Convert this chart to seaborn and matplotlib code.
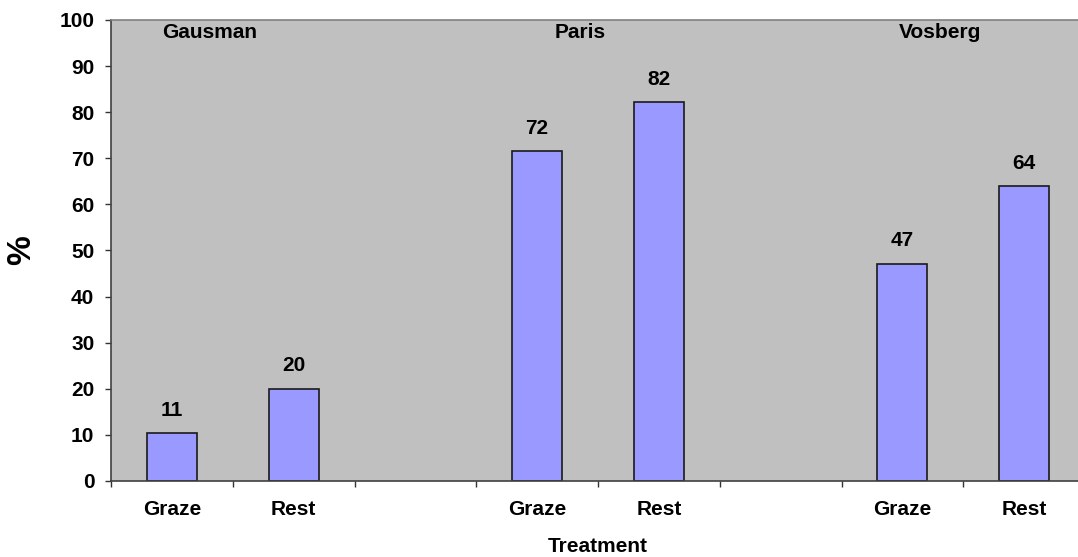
import pandas as pd
import matplotlib.pyplot as plt
import seaborn as sns

# --- data ---
slots = [0, 1, 3, 4, 6, 7]          # category slot of each bar (2 and 5 are blank gaps)
treatments = ["Graze", "Rest", "Graze", "Rest", "Graze", "Rest"]
values = [10.4, 20.0, 71.5, 82.2, 47.1, 64.0]
value_labels = ["11", "20", "72", "82", "47", "64"]
sites = ["Gausman", "Paris", "Vosberg"]
site_x = [0.31, 3.35, 6.31]
n_slots = 8

df = pd.DataFrame({"slot": slots, "treatment": treatments, "value": values})

sns.set_theme(style="white")
plt.rcParams["font.family"] = ["Liberation Sans", "DejaVu Sans"]
plt.rcParams["font.weight"] = "bold"

fig = plt.figure(figsize=(10.78, 5.57), dpi=100)
ax = fig.add_axes([111 / 1078, 1 - 481 / 557, 974 / 1078, 461 / 557])
ax.set_facecolor("#C0C0C0")

sns.barplot(data=df, x="slot", y="value", order=list(range(n_slots)),
            color="#9999FF", saturation=1, width=0.41,
            edgecolor="#1a1a1a", linewidth=1.2, ax=ax)

ax.set_xlim(-0.5, n_slots - 0.5)
ax.set_ylim(0, 100)
ax.set_yticks(range(0, 101, 10))

# x: tick marks at slot boundaries, labels at slot centres
tick_names = [""] * n_slots
for s, t in zip(slots, treatments):
    tick_names[s] = t
ax.set_xticks([i - 0.5 for i in range(n_slots + 1)])
ax.set_xticklabels([])
ax.set_xticks(range(n_slots), minor=True)
ax.set_xticklabels(tick_names, minor=True)
ax.tick_params(axis="x", which="major", direction="out", length=4, width=1,
               color="#333333", bottom=True)
ax.tick_params(axis="x", which="minor", length=0, pad=14, labelsize=15,
               labelcolor="black")
ax.tick_params(axis="y", direction="out", length=4, width=1, color="#333333",
               left=True, pad=8, labelsize=15, labelcolor="black")
for lab in ax.get_xticklabels(minor=True) + ax.get_yticklabels():
    lab.set_fontweight("bold")

ax.spines["top"].set_visible(True)
ax.spines["top"].set_color("#808080")
ax.spines["right"].set_visible(False)
ax.spines["left"].set_color("#404040")
ax.spines["bottom"].set_color("#404040")
for sp in ax.spines.values():
    sp.set_linewidth(1.2)

# value labels above each bar
for s, v, lab in zip(slots, values, value_labels):
    ax.annotate(lab, (s, v), xytext=(0, 16.5), textcoords="offset points",
                ha="center", va="center", fontsize=15, fontweight="bold",
                color="black")

# site names
for name, x in zip(sites, site_x):
    ax.text(x, 97.2, name, ha="center", va="center", fontsize=15,
            fontweight="bold", color="black")

ax.set_xlabel("Treatment", fontsize=15, fontweight="bold", color="black")
ax.xaxis.set_label_coords(0.5, -0.122)
ax.set_ylabel("%", fontsize=24, fontweight="bold", color="black")
ax.yaxis.set_label_coords(-0.076, 0.5)

fig.savefig("out.png", dpi=100)
